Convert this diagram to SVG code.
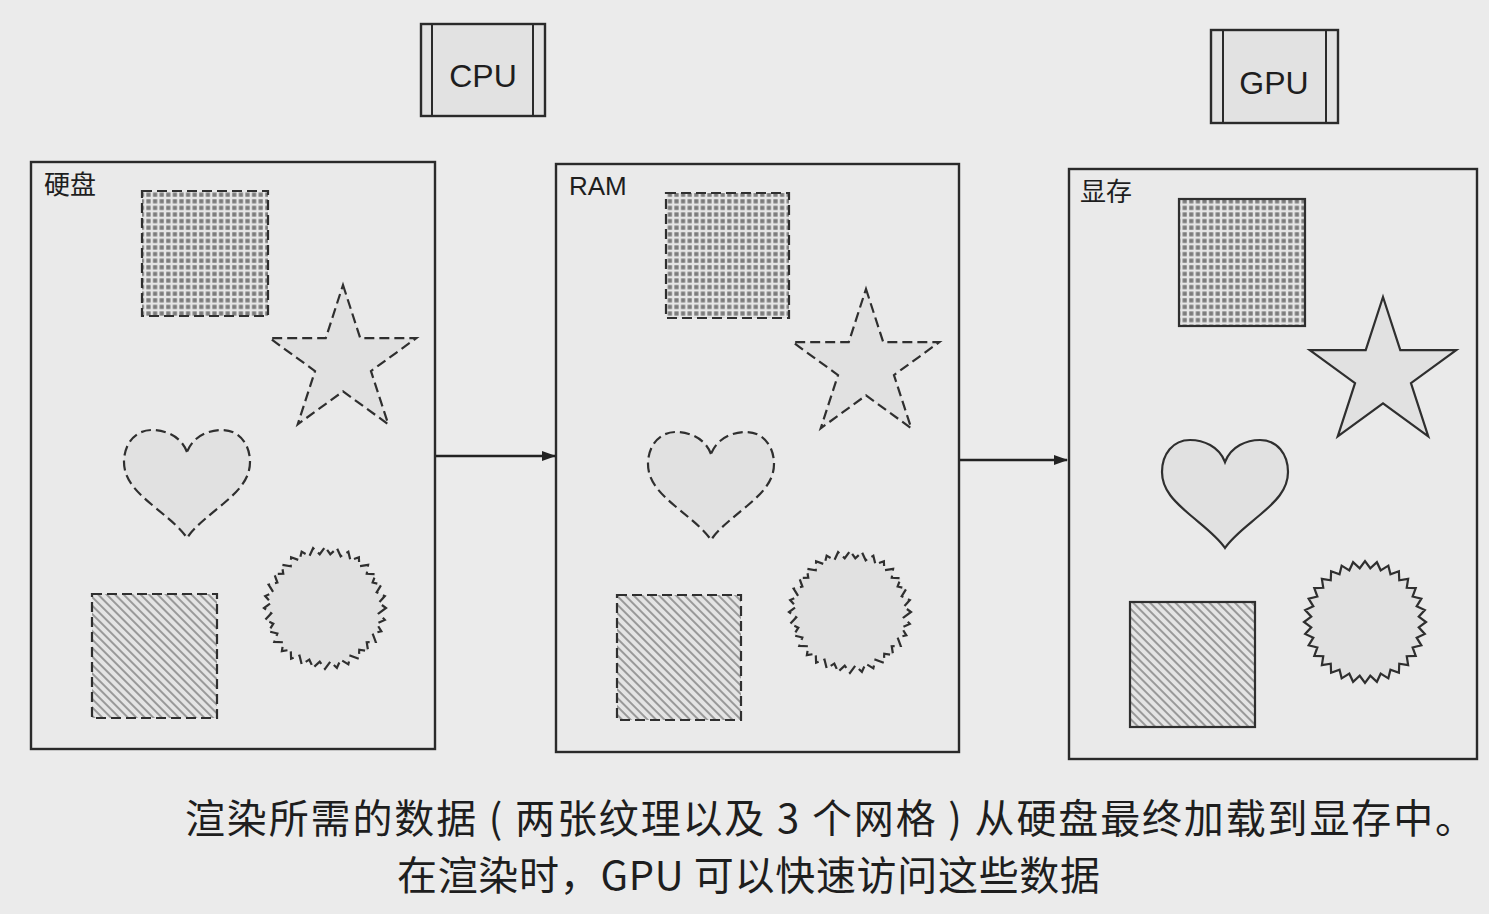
<svg xmlns="http://www.w3.org/2000/svg" width="1489" height="914" viewBox="0 0 1489 914">
  <style>
    .panel { fill: #eaeaea; stroke: #2a2a2a; stroke-width: 2.4; }
    .chip { fill: #e2e2e2; stroke: #2a2a2a; stroke-width: 2.4; }
    .chip-bar { stroke: #2a2a2a; stroke-width: 2; }
    .chip-label { font-family: "Liberation Sans", Arial, sans-serif; font-size: 32px; fill: #1e1e1e; text-anchor: middle; }
    .panel-label { font-family: "Liberation Sans", "Noto Sans CJK SC", sans-serif; font-size: 26px; fill: #1e1e1e; }
    .shape { fill: #e1e1e1; stroke: #2f2f2f; stroke-width: 2.2; }
    .dashed { stroke-dasharray: 10 5; }
    .grid { fill: url(#gridFill); }
    .hatch { fill: url(#hatchFill); }
    .link { stroke: #222; stroke-width: 2.4; fill: none; marker-end: url(#arrow); }
    .caption { font-family: "Noto Sans CJK SC", "Noto Sans", sans-serif; font-size: 40px; fill: #1e1e1e; }
  </style>
  <defs>
    <pattern id="gridFill" patternUnits="userSpaceOnUse" width="6.6" height="6.6">
      <rect width="6.6" height="6.6" fill="#e6e6e6"/>
      <rect x="1.2" y="1.2" width="4.2" height="4.2" fill="#7c7c7c"/>
    </pattern>
    <pattern id="hatchFill" patternUnits="userSpaceOnUse" width="6" height="6" patternTransform="rotate(45)">
      <rect width="6" height="6" fill="#e4e4e4"/>
      <line x1="0" y1="3" x2="6" y2="3" stroke="#999" stroke-width="2"/>
    </pattern>
    <marker id="arrow" viewBox="0 0 14 10" refX="13" refY="5" markerWidth="14" markerHeight="10" markerUnits="userSpaceOnUse" orient="auto">
      <path d="M0,0 L14,5 L0,10 Z" fill="#222"/>
    </marker>
    <polygon id="star" points="0,-77 17.28,-23.79 73.23,-23.79 27.96,9.08 45.26,62.29 0,29.4 -45.26,62.29 -27.96,9.08 -73.23,-23.79 -17.28,-23.79"/>
    <path id="heart" d="M0,22 C-6,6 -22,0 -35,0 C-52,0 -63,14 -63,32 C-63,50 -50,62 -36,74 C-22,86 -8,96 0,108 C8,96 22,86 36,74 C50,62 63,50 63,32 C63,14 52,0 35,0 C22,0 6,6 0,22 Z"/>
    <polygon id="sun" points="61,0 53.74,5.29 59.83,11.9 51.67,15.68 56.36,23.34 47.62,25.46 50.72,33.89 41.74,34.26 43.13,43.13 34.26,41.74 33.89,50.72 25.46,47.62 23.34,56.36 15.68,51.67 11.9,59.83 5.29,53.74 0,61 -5.29,53.74 -11.9,59.83 -15.68,51.67 -23.34,56.36 -25.46,47.62 -33.89,50.72 -34.26,41.74 -43.13,43.13 -41.74,34.26 -50.72,33.89 -47.62,25.46 -56.36,23.34 -51.67,15.68 -59.83,11.9 -53.74,5.29 -61,0 -53.74,-5.29 -59.83,-11.9 -51.67,-15.68 -56.36,-23.34 -47.62,-25.46 -50.72,-33.89 -41.74,-34.26 -43.13,-43.13 -34.26,-41.74 -33.89,-50.72 -25.46,-47.62 -23.34,-56.36 -15.68,-51.67 -11.9,-59.83 -5.29,-53.74 0,-61 5.29,-53.74 11.9,-59.83 15.68,-51.67 23.34,-56.36 25.46,-47.62 33.89,-50.72 34.26,-41.74 43.13,-43.13 41.74,-34.26 50.72,-33.89 47.62,-25.46 56.36,-23.34 51.67,-15.68 59.83,-11.9 53.74,-5.29"/>
  </defs>

  <!-- paper -->
  <rect width="1489" height="914" fill="#ebebeb"/>

  <!-- processors -->
  <g id="cpu">
    <rect class="chip" x="421" y="24" width="124" height="92"/>
    <line class="chip-bar" x1="432" y1="24" x2="432" y2="116"/>
    <line class="chip-bar" x1="533" y1="24" x2="533" y2="116"/>
    <text class="chip-label" x="483" y="87">CPU</text>
  </g>
  <g id="gpu">
    <rect class="chip" x="1211" y="30" width="127" height="93"/>
    <line class="chip-bar" x1="1223" y1="30" x2="1223" y2="123"/>
    <line class="chip-bar" x1="1326" y1="30" x2="1326" y2="123"/>
    <text class="chip-label" x="1274" y="94">GPU</text>
  </g>

  <!-- storage: disk -->
  <g id="disk">
    <rect class="panel" x="31" y="162" width="404" height="587"/>
    <text class="panel-label" x="44" y="194">硬盘</text>
    <rect class="shape dashed grid" x="142" y="191" width="126" height="125"/>
    <use href="#star" class="shape dashed" transform="translate(343,362)"/>
    <use href="#heart" class="shape dashed" transform="translate(187,430)"/>
    <rect class="shape dashed hatch" x="92" y="594" width="125" height="124"/>
    <use href="#sun" class="shape dashed" transform="translate(325,608)"/>
  </g>

  <!-- storage: system memory -->
  <g id="ram">
    <rect class="panel" x="556" y="164" width="403" height="588"/>
    <text class="panel-label" x="569" y="195">RAM</text>
    <rect class="shape dashed grid" x="666" y="193" width="123" height="125"/>
    <use href="#star" class="shape dashed" transform="translate(866,366)"/>
    <use href="#heart" class="shape dashed" transform="translate(711,432)"/>
    <rect class="shape dashed hatch" x="617" y="595" width="124" height="125"/>
    <use href="#sun" class="shape dashed" transform="translate(850,612)"/>
  </g>

  <!-- storage: video memory -->
  <g id="vram">
    <rect class="panel" x="1069" y="169" width="408" height="590"/>
    <text class="panel-label" x="1080" y="201">显存</text>
    <rect class="shape grid" x="1179" y="199" width="126" height="127"/>
    <use href="#star" class="shape" transform="translate(1383,374)"/>
    <use href="#heart" class="shape" transform="translate(1225,440)"/>
    <rect class="shape hatch" x="1130" y="602" width="125" height="125"/>
    <use href="#sun" class="shape" transform="translate(1365,622)"/>
  </g>

  <!-- data flow -->
  <g id="connectors">
    <line class="link" x1="436" y1="456" x2="555" y2="456"/>
    <line class="link" x1="960" y1="460" x2="1067" y2="460"/>
  </g>

  <!-- caption -->
  <g id="caption">
    <text class="caption" x="185" y="833" textLength="1290" lengthAdjust="spacing">渲染所需的数据 ( 两张纹理以及 3 个网格 ) 从硬盘最终加载到显存中。</text>
    <text class="caption" x="397" y="890" textLength="703" lengthAdjust="spacing">在渲染时，GPU 可以快速访问这些数据</text>
  </g>
</svg>
